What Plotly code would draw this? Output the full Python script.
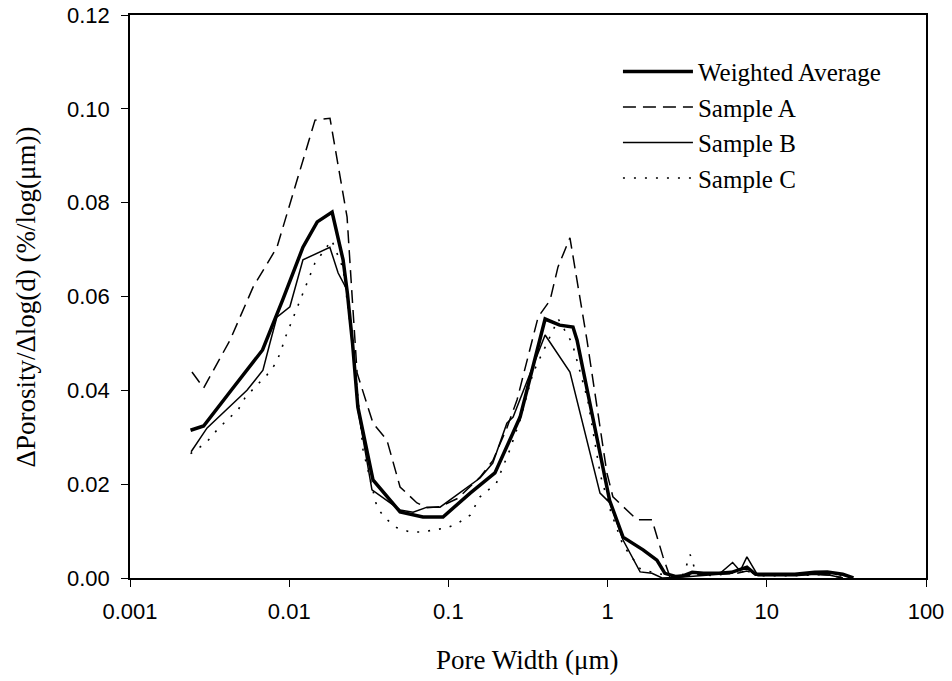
import plotly.graph_objects as go

# ---- data ----
x_avg = [0.0024, 0.0029, 0.0043, 0.0054, 0.0068, 0.0091, 0.0122, 0.0150, 0.0186, 0.0218, 0.0232, 0.0250,
         0.0270, 0.0336, 0.0497, 0.0692, 0.0925, 0.137, 0.196, 0.282, 0.405, 0.50, 0.606, 0.643, 1.03, 1.25,
         1.67, 2.04, 2.29, 2.7, 3.0, 3.4, 4.0, 5.0, 6.0, 7.5, 8.5, 10, 15, 20, 24, 30, 35]
y_avg = [0.0315, 0.0324, 0.0399, 0.0443, 0.0486, 0.0593, 0.0705, 0.0759, 0.0780, 0.0678, 0.0607, 0.0500,
         0.0364, 0.0209, 0.0141, 0.0130, 0.0130, 0.0181, 0.0224, 0.0343, 0.0552, 0.0539, 0.0535, 0.0507, 0.0165, 0.0087,
         0.0060, 0.0038, 0.0010, 0.0003, 0.0005, 0.0012, 0.0010, 0.0010, 0.0012, 0.0023, 0.0008, 0.0008, 0.0008, 0.0012, 0.0013, 0.0008, 0.0]

x_a = [0.00245, 0.0029, 0.00425, 0.00593, 0.00838, 0.01453, 0.01804, 0.0231, 0.0250, 0.0267, 0.0336, 0.0411,
       0.0497, 0.0635, 0.0734, 0.0886, 0.115, 0.137, 0.158, 0.19, 0.233, 0.27, 0.32, 0.366, 0.435, 0.488, 0.58,
       0.742, 0.99, 1.08, 1.53, 1.9, 2.23, 2.46, 3.0, 4.0, 5.0, 6.5, 7.5, 8.5, 10, 15, 20, 25, 30]
y_a = [0.0439, 0.0405, 0.0507, 0.0620, 0.0705, 0.0976, 0.0980, 0.0769, 0.0586, 0.0437, 0.0330, 0.0294,
       0.0194, 0.0160, 0.0150, 0.0152, 0.0170, 0.0195, 0.0215, 0.0250, 0.0320, 0.0380, 0.0480, 0.0556, 0.0592, 0.0663, 0.0725,
       0.0507, 0.0224, 0.0173, 0.0124, 0.0124, 0.0045, 0.0003, 0.0005, 0.0008, 0.0008, 0.0010, 0.0015, 0.0008, 0.0006, 0.0006, 0.0008, 0.0006, 0.0]

x_b = [0.00242, 0.00305, 0.00543, 0.00684, 0.00757, 0.00837, 0.0101, 0.0122, 0.0180, 0.0203, 0.0231, 0.0250,
       0.0270, 0.0331, 0.0497, 0.0600, 0.0734, 0.0886, 0.158, 0.19, 0.233, 0.255, 0.405, 0.50, 0.58, 0.896,
       1.035, 1.25, 1.6, 1.9, 2.2, 3.0, 4.0, 5.0, 6.1, 6.8, 7.5, 8.8, 10, 15, 20, 25, 30]
y_b = [0.0269, 0.0320, 0.0400, 0.0443, 0.0501, 0.0556, 0.0578, 0.0678, 0.0705, 0.0650, 0.0614, 0.0500,
       0.0360, 0.0188, 0.0145, 0.0140, 0.0151, 0.0151, 0.0213, 0.0245, 0.0330, 0.0343, 0.0518, 0.0471, 0.0439, 0.0181,
       0.0160, 0.0081, 0.0013, 0.0010, 0.0, 0.0002, 0.0005, 0.0008, 0.0033, 0.0015, 0.0045, 0.0005, 0.0005, 0.0005, 0.0008, 0.0006, 0.0]

x_c = [0.0024, 0.0030, 0.00347, 0.00407, 0.00477, 0.00528, 0.0061, 0.00726, 0.00826, 0.00888, 0.00941, 0.0101,
       0.0109, 0.0117, 0.0126, 0.0135, 0.0145, 0.0185, 0.0218, 0.0250, 0.0291, 0.0356, 0.0399, 0.0475, 0.0574,
       0.0683, 0.0799, 0.098, 0.115, 0.137, 0.158, 0.20, 0.243, 0.282, 0.34, 0.49, 0.6, 0.75, 0.9, 1.05, 1.25,
       1.6, 2.0, 2.5, 3.0, 3.3, 3.6, 4.5, 6.0, 7.5, 9.0, 15, 25, 35]
y_c = [0.0265, 0.0288, 0.0313, 0.0337, 0.0358, 0.0384, 0.0407, 0.0433, 0.0458, 0.0484, 0.0511, 0.0537,
       0.0565, 0.0593, 0.0618, 0.0642, 0.0671, 0.0720, 0.0660, 0.0500, 0.0273, 0.0151, 0.0128, 0.0107, 0.0098,
       0.0098, 0.0102, 0.0107, 0.0117, 0.0134, 0.0173, 0.0202, 0.0273, 0.0337, 0.0437, 0.0552, 0.0500, 0.0380, 0.0220, 0.0140, 0.0070,
       0.0020, 0.0010, 0.0005, 0.0008, 0.0050, 0.0010, 0.0005, 0.0010, 0.0015, 0.0005, 0.0005, 0.0008, 0.0]

x_ticks = [0.001, 0.01, 0.1, 1, 10, 100]
x_ticktext = ["0.001", "0.01", "0.1", "1", "10", "100"]
y_ticks = [0.0, 0.02, 0.04, 0.06, 0.08, 0.10, 0.12]

serif = "Liberation Serif, Times New Roman, serif"
sans = "Liberation Sans, Arial, sans-serif"

fig = go.Figure()
fig.add_trace(go.Scatter(x=x_avg, y=y_avg, mode="lines", name="Weighted Average",
                         line=dict(color="black", width=3.5)))
fig.add_trace(go.Scatter(x=x_a, y=y_a, mode="lines", name="Sample A",
                         line=dict(color="black", width=1.5, dash="13px,7px")))
fig.add_trace(go.Scatter(x=x_b, y=y_b, mode="lines", name="Sample B",
                         line=dict(color="black", width=1.5)))
fig.add_trace(go.Scatter(x=x_c, y=y_c, mode="lines", name="Sample C",
                         line=dict(color="black", width=1.6, dash="2px,9px")))

fig.update_layout(
    width=952, height=681,
    margin=dict(l=130, r=26, t=15, b=103, autoexpand=False),
    plot_bgcolor="white", paper_bgcolor="white",
    showlegend=True,
    legend=dict(x=0.613, y=0.940, xanchor="left", yanchor="top",
                font=dict(family=serif, size=25, color="black"),
                bgcolor="rgba(0,0,0,0)", itemwidth=70, tracegroupgap=0),
    xaxis=dict(type="log", range=[-3, 2], tickvals=x_ticks, ticktext=x_ticktext,
               automargin=False,
               showgrid=False, zeroline=False, showline=True, linecolor="black", linewidth=2,
               mirror=True, ticks="outside", ticklen=7, tickwidth=1.2, tickcolor="black",
               ticklabelstandoff=6,
               tickfont=dict(family=sans, size=22, color="black")),
    yaxis=dict(range=[0, 0.12], tickvals=y_ticks, tickformat=".2f",
               automargin=False,
               showgrid=False, zeroline=False, showline=True, linecolor="black", linewidth=1.5,
               mirror=True, ticks="outside", ticklen=7, tickwidth=1.2, tickcolor="black",
               ticklabelstandoff=7,
               tickfont=dict(family=sans, size=22, color="black")),
    annotations=[
        dict(text="Pore Width (μm)", xref="paper", yref="paper", x=0.499, y=-0.146,
             xanchor="center", yanchor="middle", showarrow=False,
             font=dict(family=serif, size=27, color="black")),
        dict(text="ΔPorosity/Δlog(d) (%/log(μm))", xref="paper", yref="paper", x=-0.1307, y=0.5,
             xanchor="center", yanchor="middle", textangle=-90, showarrow=False,
             font=dict(family=serif, size=27, color="black")),
    ],
)

fig.write_html("out.html")
